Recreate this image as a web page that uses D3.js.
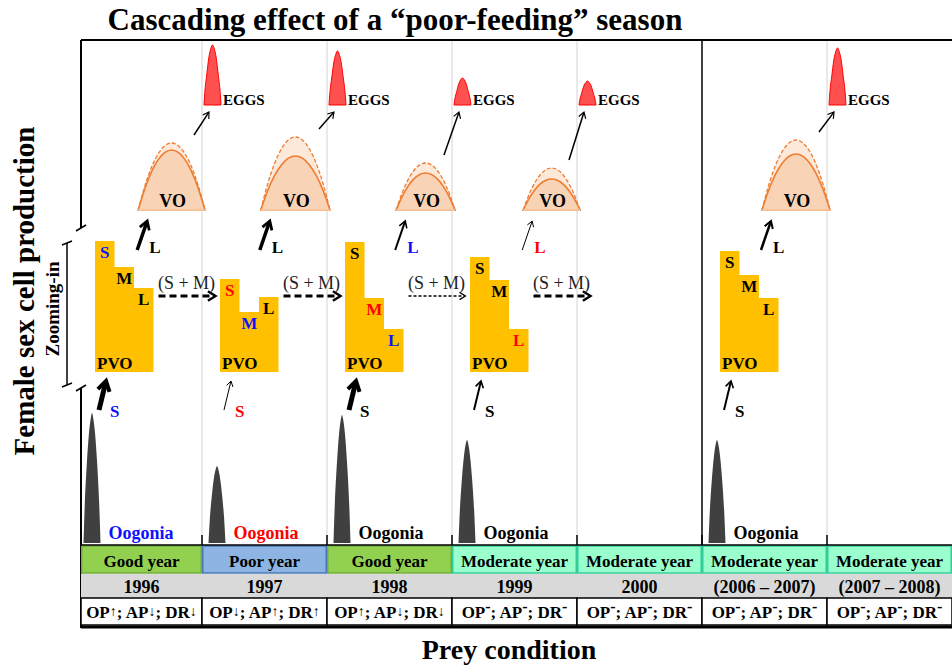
<!DOCTYPE html>
<html>
<head>
<meta charset="utf-8">
<script src="https://cdn.jsdelivr.net/npm/d3@7"></script>
<style>
  body { margin: 0; background: #fff; }
  svg { display: block; font-family: "Liberation Serif", "Times New Roman", serif; font-weight: bold; }
</style>
</head>
<body>
<svg id="chart" width="952" height="666"></svg>
<script>
// one entry per season, left to right
var years = ["1996", "1997", "1998", "1999", "2000", "(2006 \u2013 2007)", "(2007 \u2013 2008)"];
var preyCondition = ["Good year", "Poor year", "Good year", "Moderate year", "Moderate year", "Moderate year", "Moderate year"];
var preyIndex = [
    ["up", "down", "down"], ["down", "up", "up"], ["up", "down", "down"],
    ["flat", "flat", "flat"], ["flat", "flat", "flat"], ["flat", "flat", "flat"], ["flat", "flat", "flat"]
];

// oogonia peak (relative production)
var oogonia = [130, 77, 128, 103, null, 103, null];
var oogoniaLevel = ["high", "low", "normal", "normal", null, "normal", null];

// zoomed-in previtellogenic stages
var stageS = [131, 93, 130, 115, null, 121, null];
var stageM = [105, 60, 74, 92, null, 97, null];
var stageL = [84, 75, 43, 43, null, 74, null];
var levelS = ["high", "low", "normal", "normal", null, "normal", null];
var levelM = ["normal", "high", "low", "normal", null, "normal", null];
var levelL = ["normal", "normal", "high", "low", null, "normal", null];

// vitellogenic oocytes: observed and potential
var voObserved = [60, 54, 37, 31, null, 56, null];
var voPotential = [67, 73, 47, 42, null, 70, null];

// eggs spawned
var eggs = [60, 54, 27, 24, null, 57, null];

// recruitment strength (arrow weight)
var fluxS = [5, 1, 5, 2, null, 2, null];
var fluxL = [3.5, 3.5, 2, 1, null, 2.5, null];
var fluxSM = [3, 3, 1.5, 3, null, null, null];
var fluxEggs = [1.5, 1.5, 1.5, 1.5, null, 1.5, null];

var svg = d3.select("#chart");
var W = 952, H = 666;
var axisX = 81, topY = 40, tableY = 545;

var x = d3.scaleLinear().domain([0, years.length]).range([77, 952]);
var yOog = d3.scaleLinear().domain([0, 150]).range([543, 393]);
var yStage = d3.scaleLinear().domain([0, 140]).range([372, 232]);
var yVO = d3.scaleLinear().domain([0, 80]).range([210, 130]);
var yEgg = d3.scaleLinear().domain([0, 70]).range([105, 35]);
var voWidth = d3.scaleLinear().domain([0, 100]).range([40, 80]);
var stroke = d3.scaleLinear().domain([0, 5]).range([0, 5]);

var levelColor = d3.scaleOrdinal().domain(["high", "low", "normal"]).range(["#1010ff", "#ff0000", "#000"]);
var preyFill = d3.scaleOrdinal().domain(["Good year", "Poor year", "Moderate year"]).range(["#92d050", "#8db4e2", "#99ffcc"]);
var preyStroke = d3.scaleOrdinal().domain(["Good year", "Poor year", "Moderate year"]).range(["#6fae3a", "#4a78b8", "#33cc99"]);

// outline templates (fraction of half width, fraction of height)
var spikeShape = [[-1, 0], [-0.85, 0.3], [-0.62, 0.6], [-0.35, 0.85], [-0.12, 0.97], [0, 1], [0.12, 0.97], [0.35, 0.85], [0.62, 0.6], [0.85, 0.3], [1, 0]];
var bellShape = [[-1, 0], [-0.88, 0.25], [-0.68, 0.5], [-0.42, 0.8], [-0.2, 0.94], [0, 1], [0.2, 0.94], [0.42, 0.8], [0.68, 0.5], [0.88, 0.25], [1, 0]];
var humpShape = [[-1, 0], [-0.8, 0.36], [-0.6, 0.64], [-0.4, 0.84], [-0.2, 0.96], [0, 1], [0.2, 0.96], [0.4, 0.84], [0.6, 0.64], [0.8, 0.36], [1, 0]];

var line = d3.line().curve(d3.curveMonotoneX);
function shape(tpl, cx, half, base, top) {
    return line(tpl.map(function(p) { return [cx + p[0] * half, base - p[1] * (base - top)]; })) + "Z";
}

function arrow(g, x1, y1, x2, y2, w, dash) {
    var a = Math.atan2(y2 - y1, x2 - x1);
    var len = 5 + 1.3 * w, spread = 0.55;
    g.append("line")
        .attr("x1", x1).attr("y1", y1).attr("x2", x2 - Math.cos(a) * w * 0.5).attr("y2", y2 - Math.sin(a) * w * 0.5)
        .attr("stroke", "#000").attr("stroke-width", w)
        .attr("stroke-dasharray", dash ? (w > 2 ? "7,4" : "3,2") : null);
    g.append("path")
        .attr("d", "M" + (x2 - len * Math.cos(a - spread)) + "," + (y2 - len * Math.sin(a - spread)) +
            "L" + x2 + "," + y2 +
            "L" + (x2 - len * Math.cos(a + spread)) + "," + (y2 - len * Math.sin(a + spread)))
        .attr("fill", "none").attr("stroke", "#000").attr("stroke-width", Math.max(w * 0.8, 1))
        .attr("stroke-linejoin", "miter");
}

// column separators
var bounds = d3.range(1, years.length);
svg.append("g").selectAll("line").data(bounds).enter().append("line")
    .attr("x1", function(d) { return x(d); }).attr("x2", function(d) { return x(d); })
    .attr("y1", topY).attr("y2", tableY)
    .attr("stroke", function(d) { return d === 5 ? "#000" : "#d4d4d4"; })
    .attr("stroke-width", function(d) { return d === 5 ? 1.5 : 1; });
svg.append("g").selectAll("line").data(bounds).enter().append("line")
    .attr("x1", function(d) { return x(d); }).attr("x2", function(d) { return x(d); })
    .attr("y1", tableY - 10).attr("y2", tableY)
    .attr("stroke", "#000").attr("stroke-width", 1.5);

// frame + broken axis
var frame = svg.append("g").attr("stroke", "#000").attr("stroke-width", 2).attr("fill", "none");
frame.append("line").attr("x1", axisX).attr("x2", W).attr("y1", topY).attr("y2", topY);
frame.append("line").attr("x1", axisX).attr("x2", axisX).attr("y1", topY).attr("y2", 228);
frame.append("line").attr("x1", axisX).attr("x2", axisX).attr("y1", 388).attr("y2", 628);
frame.append("line").attr("x1", 76).attr("x2", 86).attr("y1", 231).attr("y2", 225).attr("stroke-width", 1.5);
frame.append("line").attr("x1", 76).attr("x2", 86).attr("y1", 391).attr("y2", 385).attr("stroke-width", 1.5);
frame.append("line").attr("x1", 67).attr("x2", 67).attr("y1", 243).attr("y2", 385).attr("stroke-width", 1.5);
frame.append("line").attr("x1", 62).attr("x2", 72).attr("y1", 245).attr("y2", 241).attr("stroke-width", 1.5);
frame.append("line").attr("x1", 62).attr("x2", 72).attr("y1", 387).attr("y2", 383).attr("stroke-width", 1.5);

var idx = d3.range(years.length);
var marks = svg.append("g");

// oogonia
idx.forEach(function(i) {
    if (oogonia[i] == null) return;
    var cx = x(i) + 15;
    marks.append("path").attr("d", shape(spikeShape, cx, 8.5, yOog(0), yOog(oogonia[i]))).attr("fill", "#404040");
    marks.append("text").attr("x", x(i) + 64).attr("y", 539).attr("text-anchor", "middle")
        .attr("font-size", 18).attr("fill", levelColor(oogoniaLevel[i])).text("Oogonia");
});

// previtellogenic blocks
var sw = 19.5;
idx.forEach(function(i) {
    if (stageS[i] == null) return;
    var x0 = x(i) + 18, b = yStage(0);
    var yS = yStage(stageS[i]), yM = yStage(stageM[i]), yL = yStage(stageL[i]);
    var pts = [[x0, b], [x0, yS], [x0 + sw, yS], [x0 + sw, yM], [x0 + 2 * sw, yM], [x0 + 2 * sw, yL], [x0 + 3 * sw, yL], [x0 + 3 * sw, b]];
    marks.append("path").attr("d", "M" + pts.join("L") + "Z").attr("fill", "#ffc000");
    var lab = [["S", yS, levelS[i]], ["M", yM, levelM[i]], ["L", yL, levelL[i]]];
    lab.forEach(function(l, k) {
        marks.append("text").attr("x", x0 + sw * (k + 0.5)).attr("y", l[1] + 17).attr("text-anchor", "middle")
            .attr("font-size", 17).attr("fill", levelColor(l[2])).text(l[0]);
    });
    marks.append("text").attr("x", x0 + 2).attr("y", b - 3).attr("font-size", 17).text("PVO");

    // oogonia -> S
    arrow(marks, x0 + 4, 410, x0 + 11, 381, stroke(fluxS[i]));
    marks.append("text").attr("x", x0 + 15).attr("y", 417).attr("font-size", 17)
        .attr("fill", levelColor(levelS[i])).text("S");

    // carry-over (S + M) to next season
    if (fluxSM[i] != null) {
        var ax = x0 + 3 * sw + 5;
        arrow(marks, ax, 296, ax + 57, 296, stroke(fluxSM[i]), true);
        marks.append("text").attr("x", ax + 28).attr("y", 289).attr("text-anchor", "middle")
            .attr("font-size", 18).attr("font-weight", "normal").attr("fill", "#222").text("(S + M)");
    }
});

// vitellogenic oocytes
idx.forEach(function(i) {
    if (voObserved[i] == null) return;
    var right = x(i + 1) + 3, w = voWidth(voPotential[i]), cx = right - w / 2, b = yVO(0);
    marks.append("path").attr("d", shape(humpShape, cx, w / 2, b, yVO(voPotential[i])))
        .attr("fill", "#fde9da").attr("stroke", "#ed7d31").attr("stroke-width", 1.3).attr("stroke-dasharray", "4,2");
    marks.append("path").attr("d", shape(humpShape, cx, w / 2, b, yVO(voObserved[i])))
        .attr("fill", "#f9d3b5").attr("stroke", "#ed7d31").attr("stroke-width", 1.6);
    marks.append("line").attr("x1", right - w).attr("x2", right).attr("y1", b).attr("y2", b)
        .attr("stroke", "#f9d3b5").attr("stroke-width", 1.6);
    marks.append("text").attr("x", cx + 1).attr("y", b - 3).attr("text-anchor", "middle")
        .attr("font-size", 18).text("VO");

    // L -> VO
    var lx = right - w - 1;
    arrow(marks, lx, 250, lx + 10, 221, stroke(fluxL[i]));
    marks.append("text").attr("x", lx + 12).attr("y", 253).attr("font-size", 17)
        .attr("fill", levelColor(levelL[i])).text("L");
});

// eggs
idx.forEach(function(i) {
    if (eggs[i] == null) return;
    var bx = x(i + 1);
    marks.append("path").attr("d", shape(bellShape, bx + 10.5, 8.5, yEgg(0), yEgg(eggs[i])))
        .attr("fill", "#ff5050").attr("stroke", "#ff0000").attr("stroke-width", 1);
    marks.append("text").attr("x", bx + 21).attr("y", yEgg(0)).attr("font-size", 15).text("EGGS");
    arrow(marks, bx - 8, yVO(voPotential[i]) - 8, bx + 7, 112, stroke(fluxEggs[i]));
});

// prey table
var table = svg.append("g");
function cellX(i) { return Math.max(x(i), axisX); }
function cellW(i) { return x(i + 1) - cellX(i); }

table.selectAll(".prey").data(idx).enter().append("rect")
    .attr("x", function(i) { return cellX(i) + 0.75; }).attr("y", 546)
    .attr("width", function(i) { return cellW(i) - 1.5; }).attr("height", 27)
    .attr("fill", function(i) { return preyFill(preyCondition[i]); })
    .attr("stroke", function(i) { return preyStroke(preyCondition[i]); }).attr("stroke-width", 1.5);
table.selectAll(".preyT").data(idx).enter().append("text")
    .attr("x", function(i) { return cellX(i) + cellW(i) / 2; }).attr("y", 567)
    .attr("text-anchor", "middle").attr("font-size", 17)
    .text(function(i) { return preyCondition[i]; });

table.append("rect").attr("x", axisX).attr("y", 574).attr("width", W - axisX).attr("height", 24).attr("fill", "#d9d9d9");
table.selectAll(".yr").data(idx).enter().append("text")
    .attr("x", function(i) { return cellX(i) + cellW(i) / 2; }).attr("y", 593)
    .attr("text-anchor", "middle").attr("font-size", 18)
    .text(function(i) { return years[i]; });

table.selectAll(".ix").data(idx).enter().append("rect")
    .attr("x", function(i) { return cellX(i); }).attr("y", 598)
    .attr("width", function(i) { return cellW(i); }).attr("height", 27)
    .attr("fill", "#fff").attr("stroke", "#000").attr("stroke-width", 1.5);

var sym = { up: "\u2191", down: "\u2193", flat: "-" };
var names = ["OP", "; AP", "; DR"];
idx.forEach(function(i) {
    var t = table.append("text").attr("x", cellX(i) + cellW(i) / 2).attr("y", 618)
        .attr("text-anchor", "middle").attr("font-size", 17);
    preyIndex[i].forEach(function(s, k) {
        var up = s === "flat" ? 6 : 2;
        t.append("tspan").attr("dy", k === 0 ? 0 : up).text(names[k]);
        t.append("tspan").attr("font-size", s === "flat" ? 16 : 14).attr("dy", -up).text(sym[s]);
    });
});

table.append("line").attr("x1", axisX).attr("x2", W).attr("y1", tableY).attr("y2", tableY)
    .attr("stroke", "#000").attr("stroke-width", 1.5);
table.append("line").attr("x1", axisX).attr("x2", W).attr("y1", 627).attr("y2", 627)
    .attr("stroke", "#000").attr("stroke-width", 3);

// titles
svg.append("text").attr("x", 395).attr("y", 30).attr("text-anchor", "middle").attr("font-size", 31)
    .text("Cascading effect of a \u201cpoor-feeding\u201d season");
svg.append("text").attr("x", 509).attr("y", 659).attr("text-anchor", "middle").attr("font-size", 28)
    .text("Prey condition");
svg.append("text").attr("transform", "translate(34,291) rotate(-90)").attr("text-anchor", "middle")
    .attr("font-size", 29).text("Female sex cell production");
svg.append("text").attr("transform", "translate(59,309) rotate(-90)").attr("text-anchor", "middle")
    .attr("font-size", 19).text("Zooming-in");
</script>
</body>
</html>
